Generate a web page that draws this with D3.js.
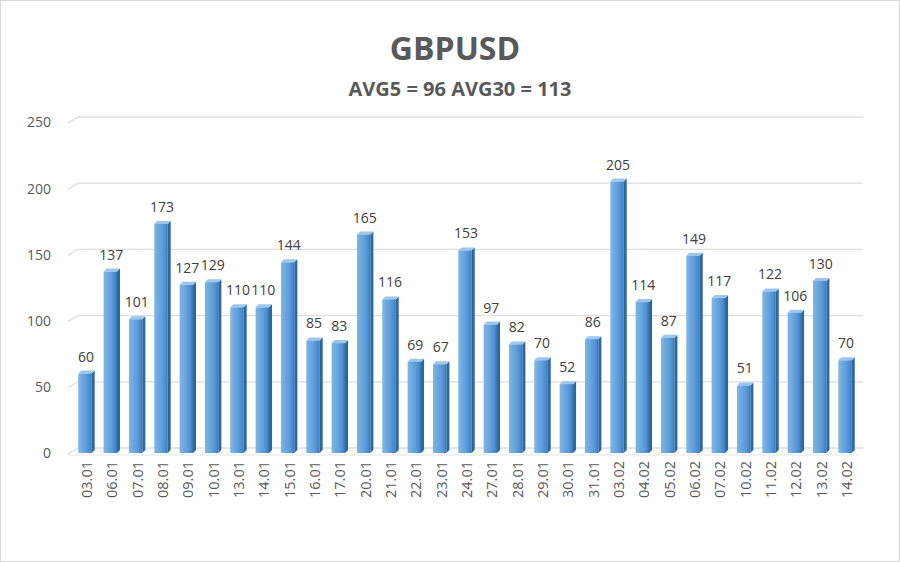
<!DOCTYPE html>
<html><head><meta charset="utf-8">
<script src="https://cdn.jsdelivr.net/npm/d3@7"></script>
<style>body{margin:0;background:#fff}svg{display:block}</style>
</head><body>
<svg id="c" width="900" height="562"></svg>
<script>
const categories = ["03.01","06.01","07.01","08.01","09.01","10.01","13.01","14.01","15.01","16.01","17.01","20.01","21.01","22.01","23.01","24.01","27.01","28.01","29.01","30.01","31.01","03.02","04.02","05.02","06.02","07.02","10.02","11.02","12.02","13.02","14.02"];
const values = [60,137,101,173,127,129,110,110,144,85,83,165,116,69,67,153,97,82,70,52,86,205,114,87,149,117,51,122,106,130,70];
const yTicks = [0,50,100,150,200,250];
const title = "GBPUSD";
const subtitle = "AVG5 = 96 AVG30 = 113";

const svg = d3.select("#c");
const font = "'Open Sans', 'Liberation Sans', sans-serif";
svg.append("rect").attr("x",0.5).attr("y",0.5).attr("width",899).attr("height",561)
  .attr("fill","#fff").attr("stroke","#d9d9d9");

const defs = svg.append("defs");
const g1 = defs.append("linearGradient").attr("id","front").attr("x1","0").attr("x2","1");
g1.append("stop").attr("offset","0").attr("stop-color","#80b6e4");
g1.append("stop").attr("offset","0.55").attr("stop-color","#5f9fdc");
g1.append("stop").attr("offset","0.85").attr("stop-color","#4a8ccf");
g1.append("stop").attr("offset","1").attr("stop-color","#3674b0");

const x = d3.scaleBand().domain(categories).range([72.3, 857.7]).paddingInner(0.47).paddingOuter(0.235);
const y = d3.scaleLinear().domain([0,250]).range([453,122]);
const dx = 6, dy = 5;

const grid = svg.append("g");
yTicks.forEach(t => {
  const yy = y(t) - dy;
  grid.append("path")
    .attr("d", `M68,${yy+dy+1}L${68+dx+4},${yy}L863,${yy}`)
    .attr("fill","none").attr("stroke", "#dedede").attr("stroke-width",1.3);
});
svg.append("path").attr("d",`M68,${y(0)+2}L858,${y(0)+2}`).attr("stroke","#e4e4e4").attr("fill","none");

const yAxis = d3.axisLeft(y).tickValues(yTicks).tickSize(0).tickPadding(0);
const ya = svg.append("g").attr("transform","translate(51,0)").call(yAxis);
ya.select(".domain").remove();
ya.selectAll("text").attr("font-family",font).attr("font-size",14).attr("fill","#595959").attr("dy","0.35em");

const bw = x.bandwidth();
const bars = svg.append("g");
categories.forEach((c,i) => {
  const v = values[i];
  const x0 = x(c), y0 = y(v), yb = y(0);
  bars.append("path")
    .attr("d",`M${x0+bw},${y0}L${x0+bw+3},${y0-3}L${x0+bw+3},${yb-3}L${x0+bw},${yb}Z`)
    .attr("fill","#2c679f");
  bars.append("path")
    .attr("d",`M${x0},${y0}L${x0+3},${y0-3}L${x0+bw+3},${y0-3}L${x0+bw},${y0}Z`)
    .attr("fill","#9cc6ee");
  bars.append("rect").attr("x",x0).attr("y",y0).attr("width",bw).attr("height",yb-y0)
    .attr("fill","url(#front)");
  bars.append("text").attr("x",x0+bw/2+1).attr("y",y0-12)
    .attr("text-anchor","middle").attr("font-family",font).attr("font-size",14)
    .attr("fill","#404040").text(v);
});

const xAxis = d3.axisBottom(x).tickSize(0).tickPadding(0);
const xa = svg.append("g").attr("transform",`translate(0,${y(0)+8})`).call(xAxis);
xa.select(".domain").remove();
xa.selectAll("text").attr("font-family",font).attr("font-size",14.5).attr("fill","#595959")
  .attr("text-anchor","end").attr("transform","rotate(-90)").attr("dx","0").attr("dy","0.35em")
  .attr("x",0).attr("y",2);

svg.append("text").attr("x",455).attr("y",60).attr("text-anchor","middle")
  .attr("font-family",font).attr("font-weight","bold").attr("font-size",32).attr("fill","#595959").text(title);
svg.append("text").attr("x",460).attr("y",96).attr("text-anchor","middle")
  .attr("font-family",font).attr("font-weight","bold").attr("font-size",20).attr("fill","#595959").text(subtitle);
</script>
</body></html>
